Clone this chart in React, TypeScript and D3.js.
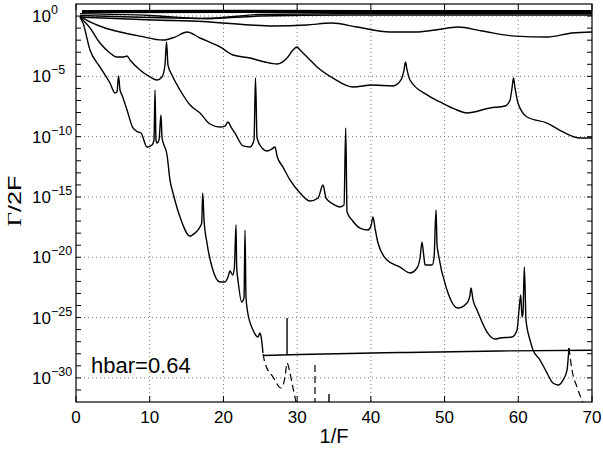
import React from 'react';
import * as d3 from 'd3';

// ---- data: points are [1/F, log10(Γ/2F)] ----
const xTickValues = [0, 10, 20, 30, 40, 50, 60, 70];
const yLabelExps = [0, -5, -10, -15, -20, -25, -30];
const hbarText = 'hbar=0.64';

const band1 = [[0.81, 0.44], [20, 0.46], [40, 0.45], [70, 0.44]];
const band2 = [[0.81, 0.36], [30, 0.38], [70, 0.36]];
const band3 = [[0.81, 0.3], [25, 0.31], [50, 0.28], [70, 0.27]];
const band4 = [[0.54, 0.2], [10.04, 0.05], [17.64, -0.2], [24.96, 0.0], [37.17, 0.09], [70, 0.09]];
const band5 = [[0.54, 0.05], [10.04, -0.12], [17.64, -0.2], [24.96, 0.13], [37.17, 0.2], [70, 0.2]];

const curveA = [
  [0.54, 0.0], [0.81, -0.08], [3.66, -0.16], [10.45, -0.33], [17.23, -0.45], [23.6, -0.74], [26.7, -0.82],
  [31.3, -0.74], [34.7, -0.58], [38.1, -0.91], [42.6, -1.32], [46.0, -1.32], [48.7, -1.16],
  [51.8, -0.91], [55.1, -1.24], [59.6, -1.66], [64.0, -1.74], [67.3, -1.4], [70, -1.32],
];

const curveB = [
  [0.54, 0.0], [1.9, -0.49], [3.93, -0.99], [5.97, -1.32], [8.68, -1.66], [11.8, -1.99], [13.43, -1.74],
  [15.06, -1.32], [16.82, -1.82], [19.54, -2.56], [21.3, -3.23], [23.61, -3.48], [25.64, -3.81],
  [27.27, -3.98], [28.63, -3.48], [29.44, -2.81], [29.98, -2.56], [30.39, -2.81], [31.48, -3.48],
  [32.7, -4.22], [34.87, -5.14], [37.58, -5.88], [40.16, -5.72], [43.01, -5.8], [44.09, -5.3],
  [44.5, -4.47], [44.7, -3.81], [44.91, -4.47], [45.31, -5.3], [47.62, -6.54], [49.38, -7.12],
  [51.69, -7.79], [53.04, -8.04], [56.17, -7.62], [58.2, -7.46], [58.88, -6.96], [59.15, -5.97],
  [59.35, -5.14], [59.56, -5.97], [59.96, -7.21], [61.18, -8.37], [63.9, -8.87], [66.07, -9.61],
  [68.38, -10.11], [70, -10.11],
];

const curveC = [
  [0.54, -0.08], [1.9, -0.99], [3.26, -2.23], [4.61, -3.06], [5.56, -3.4], [6.38, -3.4], [6.92, -3.31],
  [7.33, -3.64], [8.68, -4.47], [10.04, -5.05], [10.99, -5.3], [11.67, -5.05], [12.07, -4.06],
  [12.28, -2.15], [12.48, -4.06], [13.02, -4.89], [14.11, -6.13], [15.47, -7.38], [16.82, -8.04],
  [18.18, -8.95], [19.54, -9.2], [20.21, -9.12], [20.62, -8.78], [21.03, -9.2], [21.57, -9.7],
  [22.66, -10.77], [23.61, -10.86], [24.15, -10.28], [24.35, -5.14], [24.56, -10.11], [25.23, -10.94],
  [25.91, -11.19], [26.59, -11.02], [27.0, -10.86], [27.27, -11.6], [28.08, -12.52], [29.03, -13.59],
  [30.39, -14.67], [31.75, -15.34], [32.83, -15.09], [33.51, -14.01], [33.92, -15.09], [34.87, -15.58],
  [35.82, -15.83], [36.36, -15.67], [36.59, -9.28], [36.77, -16.25], [37.44, -16.91], [38.53, -17.58],
  [39.61, -17.74], [40.02, -17.41], [40.29, -16.66], [40.56, -17.58], [40.97, -18.82], [42.19, -20.23],
  [43.96, -20.81], [45.31, -21.3], [46.26, -20.89], [46.67, -20.06], [46.94, -18.74], [47.21, -20.06],
  [47.35, -20.64], [48.3, -20.64], [48.57, -20.06], [48.84, -16.08], [48.98, -18.98], [49.11, -19.56],
  [50.33, -22.71], [51.82, -24.21], [53.04, -23.79], [53.45, -23.13], [53.59, -22.55], [53.86, -23.54],
  [54.4, -24.37], [55.76, -26.2], [56.84, -26.78], [57.52, -26.69], [59.15, -26.61], [59.83, -26.03],
  [60.1, -24.37], [60.33, -23.13], [60.51, -24.96], [60.64, -24.62], [60.82, -20.81], [61.05, -25.2],
  [61.59, -26.86], [62.0, -27.69], [62.95, -28.52], [63.9, -29.6], [64.71, -30.43], [65.39, -30.59],
  [66.07, -30.18], [66.61, -29.35], [66.75, -28.52], [66.88, -27.52],
];
const curveCTail = [[66.88, -27.52], [67.29, -29.35], [67.97, -30.76], [68.78, -32.08]];

const curveD = [
  [0.54, -0.08], [0.95, -0.58], [1.9, -2.81], [3.26, -4.23], [4.61, -5.55], [5.29, -6.38], [5.56, -6.3],
  [5.77, -4.97], [5.97, -6.13], [6.24, -6.54], [6.92, -7.79], [7.73, -9.28], [8.41, -9.61], [8.82, -9.7],
  [9.63, -10.86], [10.31, -10.69], [10.58, -10.28], [10.72, -6.13], [10.85, -10.28], [10.99, -10.53],
  [11.26, -10.28], [11.53, -8.2], [11.67, -10.11], [11.8, -10.44], [12.35, -11.52], [12.75, -13.6],
  [13.16, -14.67], [14.11, -16.66], [15.47, -18.24], [16.14, -17.99], [16.82, -17.49], [17.05, -17.16],
  [17.19, -14.67], [17.37, -16.91], [17.77, -18.82], [18.45, -20.81], [19.54, -22.05], [20.21, -22.05],
  [20.62, -21.64], [20.89, -21.14], [21.26, -21.47], [21.48, -20.89], [21.71, -17.33], [21.8, -20.81],
  [22.02, -22.13], [22.48, -23.71], [22.79, -23.38], [22.93, -17.74], [23.06, -23.3], [23.24, -24.37],
  [24.01, -26.03], [24.69, -26.61], [24.96, -26.28], [25.1, -26.53], [25.37, -27.94],
];
const curveDTail = [
  [25.37, -28.02], [25.64, -28.77], [26.73, -29.93], [27.81, -30.84], [28.36, -29.93], [28.63, -28.77],
  [29.03, -29.6], [29.44, -30.84], [29.85, -32.0],
];

const floorLine = [[25.37, -28.15], [30.39, -28.06], [43.96, -27.9], [57.52, -27.77], [70, -27.71]];
const floorSpike = [[28.63, -28.06], [28.63, -25.04]];
const dashedDrop = [[32.42, -28.93], [32.42, -32]];
const shortDrop = [[34.32, -31.34], [34.32, -32]];

// ---- layout ----
const W = 603, H = 451;
const L = 76, R = 592, T = 4, B = 402;
const font = '"Liberation Sans", Arial, Helvetica, sans-serif';

export default function App() {
  const x = d3.scaleLinear().domain([0, 70]).range([L, R]);
  const y = d3.scaleLog().domain([1e-32, 10]).range([B, T]);
  const smooth = d3
    .line<number[]>()
    .x((d) => x(d[0]))
    .y((d) => y(Math.pow(10, d[1])))
    .curve(d3.curveMonotoneX);
  const straight = d3
    .line<number[]>()
    .x((d) => x(d[0]))
    .y((d) => y(Math.pow(10, d[1])));

  const minorExps = d3.range(-31, 1);
  const gridX = xTickValues.filter((v) => v > 0 && v < 70);

  const smoothSolid = [band1, band2, band3, band4, band5, curveA, curveB, curveC, curveD, floorLine];
  const straightSolid = [floorSpike, shortDrop];
  const smoothDashed = [curveCTail, curveDTail];
  const straightDashed = [dashedDrop];

  return (
    <svg width={W} height={H} style={{ position: 'absolute', left: 0, top: 0, background: '#fff' }}>
      <defs>
        <clipPath id="plotClip">
          <rect x={L} y={T} width={R - L} height={B - T} />
        </clipPath>
      </defs>
      <rect x={0} y={0} width={W} height={H} fill="#fff" />
      {/* grid */}
      <g stroke="#777" strokeWidth={1} strokeDasharray="1 3">
        {gridX.map((v) => (
          <line key={'gx' + v} x1={x(v)} x2={x(v)} y1={T} y2={B} />
        ))}
        {yLabelExps.map((e) => (
          <line key={'gy' + e} x1={L} x2={R} y1={y(Math.pow(10, e))} y2={y(Math.pow(10, e))} />
        ))}
      </g>
      {/* ticks */}
      <g stroke="#000" strokeWidth={1}>
        {xTickValues.map((v) => (
          <g key={'xt' + v}>
            <line x1={x(v)} x2={x(v)} y1={B} y2={B - 6} />
            <line x1={x(v)} x2={x(v)} y1={T} y2={T + 6} />
          </g>
        ))}
        {minorExps.map((e) => (
          <g key={'yt' + e}>
            <line x1={L} x2={L + 5} y1={y(Math.pow(10, e))} y2={y(Math.pow(10, e))} />
            <line x1={R} x2={R - 5} y1={y(Math.pow(10, e))} y2={y(Math.pow(10, e))} />
          </g>
        ))}
      </g>
      {/* curves */}
      <g clipPath="url(#plotClip)" fill="none" stroke="#000" strokeWidth={1.4} strokeLinejoin="round">
        {smoothSolid.map((s, i) => (
          <path key={'s' + i} d={smooth(s as number[][]) || ''} />
        ))}
        {straightSolid.map((s, i) => (
          <path key={'t' + i} d={straight(s as number[][]) || ''} />
        ))}
        {smoothDashed.map((s, i) => (
          <path key={'d' + i} d={smooth(s as number[][]) || ''} strokeDasharray="7 4" strokeWidth={1.2} />
        ))}
        {straightDashed.map((s, i) => (
          <path key={'e' + i} d={straight(s as number[][]) || ''} strokeDasharray="7 4" strokeWidth={1.2} />
        ))}
      </g>
      {/* frame */}
      <rect x={L} y={T} width={R - L} height={B - T} fill="none" stroke="#000" strokeWidth={1.2} />
      {/* x tick labels */}
      <g fontFamily={font} fontSize={17} textAnchor="middle" fill="#000">
        {xTickValues.map((v) => (
          <text key={'xl' + v} x={x(v)} y={423}>
            {v}
          </text>
        ))}
      </g>
      {/* y tick labels */}
      <g fontFamily={font} fill="#000">
        {yLabelExps.map((e) => (
          <text key={'yl' + e} x={32} y={y(Math.pow(10, e)) + 6} fontSize={17}>
            10
            <tspan dy={-8} fontSize={12.5}>
              {e === 0 ? '0' : '\u2212' + Math.abs(e)}
            </tspan>
          </text>
        ))}
      </g>
      {/* axis labels */}
      <text x={(L + R) / 2} y={443} fontFamily={font} fontSize={20} textAnchor="middle">
        1/F
      </text>
      <text
        transform="translate(20.5,201) rotate(-90)"
        fontFamily={font}
        fontSize={19}
        textAnchor="middle"
        textLength={51}
        lengthAdjust="spacingAndGlyphs"
      >
        <tspan fontFamily={'"Liberation Serif", "DejaVu Serif", serif'}>Γ</tspan>/2F
      </text>
      <text x={91} y={373} fontFamily={font} fontSize={22}>
        {hbarText}
      </text>
    </svg>
  );
}
